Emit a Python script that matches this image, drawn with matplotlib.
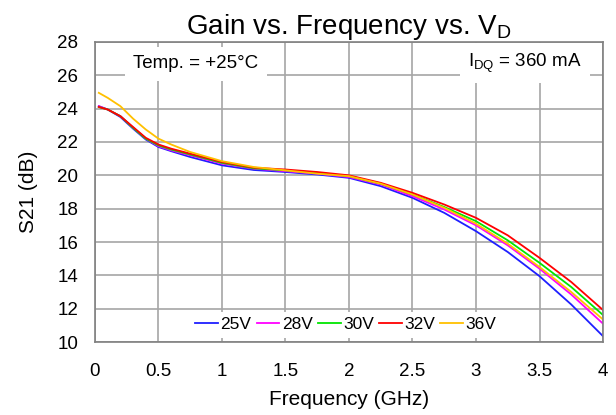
import matplotlib
matplotlib.use('Agg')
import matplotlib.pyplot as plt

plt.rcParams['font.family'] = ['Liberation Sans', 'DejaVu Sans']
plt.rcParams['mathtext.default'] = 'regular'

freq = [0.03, 0.1, 0.2, 0.3, 0.4, 0.5, 0.6, 0.75, 1.0, 1.25, 1.5, 1.75,
        2.0, 2.25, 2.5, 2.75, 3.0, 3.25, 3.5, 3.75, 4.0]

s21_25v = [24.15, 23.95, 23.5, 22.8, 22.15, 21.7, 21.45, 21.1, 20.6, 20.32, 20.2, 20.05,
           19.85, 19.35, 18.65, 17.75, 16.65, 15.4, 13.95, 12.25, 10.35]
s21_28v = [24.15, 23.95, 23.55, 22.85, 22.2, 21.75, 21.5, 21.2, 20.7, 20.4, 20.25, 20.1,
           19.9, 19.45, 18.75, 17.95, 17.0, 15.8, 14.4, 12.85, 11.1]
s21_30v = [24.1, 23.95, 23.55, 22.85, 22.2, 21.8, 21.55, 21.25, 20.75, 20.42, 20.3, 20.15,
           19.95, 19.5, 18.85, 18.1, 17.25, 16.1, 14.75, 13.3, 11.62]
s21_32v = [24.1, 23.95, 23.55, 22.9, 22.25, 21.85, 21.6, 21.3, 20.8, 20.46, 20.35, 20.2,
           20.0, 19.55, 18.95, 18.25, 17.45, 16.4, 15.05, 13.6, 11.92]
s21_36v = [24.95, 24.65, 24.15, 23.4, 22.75, 22.2, 21.85, 21.4, 20.85, 20.5, 20.3, 20.1,
           19.95, 19.5, 18.85, 18.05, 17.1, 15.9, 14.5, 13.0, 11.35]

labels = ['25V', '28V', '30V', '32V', '36V']
colors = ['#1f1fff', '#ff00ff', '#00e600', '#ff0000', '#ffc000']
series = [s21_25v, s21_28v, s21_30v, s21_32v, s21_36v]

fig = plt.figure(figsize=(6.16, 4.15), dpi=100)
ax = fig.add_axes([0.1542, 0.1759, 0.8247, 0.7229])

for y, c, lab in zip(series, colors, labels):
    ax.plot(freq, y, color=c, lw=1.3, label=lab)

ax.set_xlim(0, 4)
ax.set_ylim(10, 28)
ax.set_xticks([0, 0.5, 1, 1.5, 2, 2.5, 3, 3.5, 4])
ax.set_xticklabels(['0', '0.5', '1', '1.5', '2', '2.5', '3', '3.5', '4'])
ax.set_yticks(range(10, 29, 2))
ax.tick_params(axis='x', length=0, pad=15, labelsize=13.5)
ax.tick_params(axis='y', length=0, pad=12, labelsize=13.5)
ax.grid(True, color='#a6a6a6', lw=1.2)
ax.set_axisbelow(True)
for sp in ax.spines.values():
    sp.set_color('#808080')
    sp.set_linewidth(1.2)

ax.set_title('Gain vs. Frequency vs. V$_{D}$', fontsize=20, pad=3)
ax.set_xlabel('Frequency (GHz)', fontsize=15, labelpad=7)
ax.set_ylabel('S21 (dB)', fontsize=15, labelpad=14)

ax.text(0.795, 26.68, 'Temp. = +25°C', fontsize=13.5, ha='center', va='center',
        bbox=dict(facecolor='white', edgecolor='none', pad=6))
ax.text(3.386, 26.72, 'I$_{DQ}$ = 360 mA', fontsize=13.5, ha='center', va='center',
        bbox=dict(facecolor='white', edgecolor='none', pad=6))

ax.legend(loc='center', bbox_to_anchor=(0.494, 0.057), ncol=5, fontsize=12.5,
          frameon=True, framealpha=1, edgecolor='none', fancybox=False,
          handlelength=1.3, handletextpad=0.15, columnspacing=0.3, borderpad=0.3)

fig.savefig('out.png', dpi=100)
